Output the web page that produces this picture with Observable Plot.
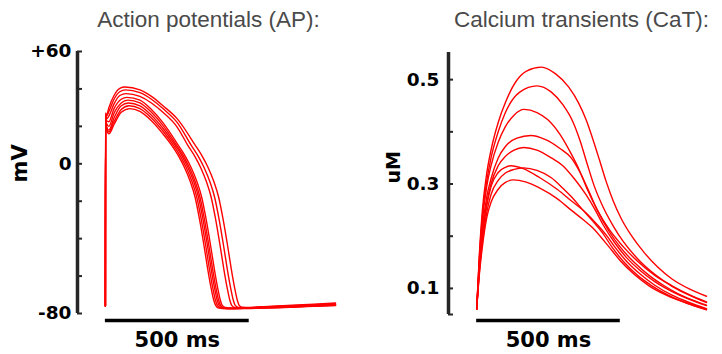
<!DOCTYPE html>
<html>
<head>
<meta charset="utf-8">
<script src="https://cdn.jsdelivr.net/npm/d3@7"></script>
<script src="https://cdn.jsdelivr.net/npm/@observablehq/plot@0.6"></script>
<style>
  body { margin: 0; background: #fff; }
  #wrap { position: relative; width: 722px; height: 354px; overflow: hidden; background: #fff; }
  .title { position: absolute; top: 9px; width: 340px; text-align: center; white-space: nowrap;
           font-family: "Liberation Sans", Arial, sans-serif; font-size: 22.5px; line-height: 22.5px; color: #4a4a4a; }
  .panel { position: absolute; top: 36px; }
</style>
</head>
<body>
<div id="wrap"></div>
<script>
// ---------- Titles & labels ----------
const titles = ["Action potentials (AP):", "Calcium transients (CaT):"];
const yLabels = ["mV", "uM"];

// ---------- Axis ticks ----------
const apTicks = [60, 40, 20, 0, -20, -40, -60, -80];
const apLabeledTicks = [60, 0, -80];
const apTickTexts = ["+60", "0", "-80"];
const caTicks = [0.5, 0.4, 0.3, 0.2, 0.1, 0.05];
const caLabeledTicks = [0.5, 0.3, 0.1];
const caTickTexts = ["0.5", "0.3", "0.1"];

// ---------- Scale bars (ms) ----------
const scaleBar = [{t0: 0, t1: 500, label: "500 ms"}];

// ---------- Action potentials: [time ms, mV] ----------
const ap1 = [[0,-76],[0.5,27],[4,26],[12,30],[30,36.5],[50,40.3],[68,41],[120,39.5],[160,36],[200,31],[250,24],[312,10],[337,4],[357,-2],[377,-9.5],[394,-18],[409,-29.5],[424,-43],[438,-56.5],[449,-66],[458,-72.5],[466,-75.8],[476,-76.6],[502,-76.8],[550,-76.4],[650,-75.6],[800,-74.4]];
const ap2 = [[0,-76],[0.5,27],[4,25.5],[12,28],[30,34.5],[50,38.5],[70,39.5],[120,38],[160,34.5],[200,29.5],[250,22],[298,10],[323,4],[343,-2],[363,-9.5],[380,-18],[395,-29.5],[410,-43],[424,-56.5],[435,-66],[444,-72.5],[452,-75.8],[462,-76.7],[488,-76.9],[550,-76.5],[650,-75.8],[800,-74.8]];
const ap3 = [[0,-76],[0.5,26],[4,24],[12,25.5],[30,32],[50,36.5],[72,37.5],[120,36],[160,32.5],[200,27.5],[250,19.5],[286,10],[311,4],[331,-2],[351,-9.5],[368,-18],[383,-29.5],[398,-43],[412,-56.5],[423,-66],[432,-72.5],[440,-75.8],[450,-76.8],[476,-77],[550,-76.6],[650,-76],[800,-75]];
const ap4 = [[0,-76],[0.5,26],[4,23],[12,22.5],[30,29.5],[55,34.5],[75,35.5],[120,34],[160,29],[200,22],[253,10],[278,4],[298,-2],[318,-9.5],[335,-18],[350,-29.5],[365,-43],[379,-56.5],[390,-66],[399,-72.5],[407,-75.8],[417,-76.8],[443,-77.1],[500,-76.9],[600,-76.5],[700,-75.9],[800,-75.3]];
const ap5 = [[0,-76],[0.5,25],[4,21.5],[12,20],[30,27],[55,32.5],[78,34],[120,32.5],[160,27.5],[200,20.5],[247,10],[272,4],[292,-2],[312,-9.5],[329,-18],[344,-29.5],[359,-43],[373,-56.5],[384,-66],[393,-72.5],[401,-75.8],[411,-76.9],[437,-77.2],[500,-77],[600,-76.6],[700,-76],[800,-75.4]];
const ap6 = [[0,-76],[0.5,24],[4,20],[12,18],[30,24.5],[55,31],[80,32.5],[120,31],[160,26],[200,19],[242,10],[267,4],[287,-2],[307,-9.5],[324,-18],[339,-29.5],[354,-43],[368,-56.5],[379,-66],[388,-72.5],[396,-75.8],[406,-76.9],[432,-77.3],[500,-77.1],[600,-76.7],[700,-76.1],[800,-75.5]];
const ap7 = [[0,-76],[0.5,23],[4,19.5],[12,17],[30,22.5],[55,29],[82,31],[120,29.5],[160,24.5],[200,17.5],[236,10],[261,4],[281,-2],[301,-9.5],[318,-18],[333,-29.5],[348,-43],[362,-56.5],[373,-66],[382,-72.5],[390,-75.8],[400,-77],[426,-77.4],[500,-77.2],[600,-76.8],[700,-76.2],[800,-75.6]];
const ap8 = [[0,-76],[0.5,22],[4,18.5],[12,16],[30,21],[55,27.5],[85,29.5],[120,28],[160,23],[200,16],[230,10],[255,4],[275,-2],[295,-9.5],[312,-18],[327,-29.5],[342,-43],[356,-56.5],[367,-66],[376,-72.5],[384,-75.8],[394,-77.1],[420,-77.5],[500,-77.3],[600,-76.9],[700,-76.3],[800,-75.7]];

// ---------- Calcium transients: [time ms, uM] ----------
const ca1 = [[0,0.06],[10,0.17],[20,0.25],[35,0.32],[50,0.365],[75,0.418],[100,0.456],[135,0.495],[175,0.517],[225,0.524],[275,0.511],[320,0.486],[355,0.455],[381,0.423],[405,0.385],[427,0.347],[450,0.306],[475,0.268],[503,0.234],[540,0.2],[584,0.168],[630,0.141],[680,0.118],[740,0.099],[800,0.085]];
const ca2 = [[0,0.06],[10,0.165],[20,0.24],[35,0.305],[50,0.35],[75,0.4],[100,0.437],[150,0.476],[210,0.488],[260,0.476],[300,0.452],[336,0.418],[360,0.383],[385,0.338],[410,0.295],[440,0.256],[475,0.22],[510,0.19],[560,0.157],[620,0.127],[680,0.104],[740,0.087],[800,0.073]];
const ca3 = [[0,0.06],[10,0.16],[20,0.23],[35,0.295],[50,0.335],[75,0.38],[100,0.41],[130,0.432],[165,0.443],[210,0.437],[248,0.423],[290,0.395],[325,0.362],[357,0.327],[385,0.29],[420,0.25],[460,0.214],[510,0.18],[560,0.152],[620,0.125],[680,0.105],[740,0.088],[800,0.074]];
const ca4 = [[0,0.06],[10,0.15],[20,0.215],[35,0.275],[50,0.31],[75,0.35],[100,0.372],[140,0.388],[189,0.393],[240,0.385],[290,0.368],[329,0.35],[360,0.322],[390,0.287],[420,0.25],[460,0.21],[500,0.179],[550,0.149],[600,0.125],[650,0.106],[700,0.09],[750,0.078],[800,0.068]];
const ca5 = [[0,0.06],[10,0.145],[20,0.205],[35,0.262],[50,0.3],[75,0.335],[100,0.353],[130,0.365],[164,0.37],[210,0.365],[260,0.35],[300,0.335],[340,0.31],[380,0.28],[410,0.253],[440,0.222],[480,0.188],[520,0.16],[570,0.134],[620,0.113],[680,0.094],[740,0.079],[800,0.067]];
const ca6 = [[0,0.06],[10,0.14],[20,0.2],[35,0.258],[50,0.295],[75,0.322],[100,0.332],[119,0.335],[160,0.33],[220,0.312],[280,0.29],[329,0.268],[380,0.245],[420,0.222],[450,0.203],[480,0.18],[520,0.153],[570,0.127],[620,0.106],[680,0.087],[740,0.073],[800,0.061]];
const ca7 = [[0,0.06],[10,0.135],[20,0.19],[35,0.245],[50,0.28],[75,0.307],[100,0.321],[130,0.328],[164,0.331],[210,0.326],[260,0.312],[300,0.292],[329,0.276],[370,0.25],[410,0.225],[440,0.205],[470,0.18],[510,0.152],[560,0.125],[610,0.105],[670,0.086],[730,0.072],[800,0.06]];
const ca8 = [[0,0.06],[10,0.13],[20,0.18],[35,0.235],[50,0.265],[75,0.29],[100,0.303],[129,0.308],[170,0.304],[220,0.292],[280,0.272],[329,0.25],[370,0.232],[402,0.217],[430,0.2],[460,0.18],[500,0.153],[550,0.126],[600,0.105],[660,0.087],[730,0.072],[800,0.059]];

const apTraces = [ap1, ap2, ap3, ap4, ap5, ap6, ap7, ap8];
const caTraces = [ca1, ca2, ca3, ca4, ca5, ca6, ca7, ca8];

// ---------- Drawing ----------
function panel(cfg) {
  const data = cfg.traces.flatMap((tr, i) => tr.map(([t, v]) => ({id: i, t, v})));
  const labelOf = new Map(cfg.labeledTicks.map((d, i) => [d, cfg.tickTexts[i]]));
  const y0 = cfg.yDomain[0];
  return Plot.plot({
    width: 361, height: 318,
    marginLeft: cfg.marginLeft, marginRight: cfg.marginRight,
    marginTop: cfg.marginTop, marginBottom: cfg.marginBottom,
    style: {fontFamily: "DejaVu Sans, sans-serif", fontSize: "18.5px", fontWeight: "bold", color: "#000", background: "#fff", overflow: "visible"},
    x: {domain: cfg.xDomain, axis: null},
    y: {domain: cfg.yDomain},
    marks: [
      Plot.ruleX([cfg.xDomain[0]], {stroke: "#262626", strokeWidth: 3.5}),
      Plot.axisY({ticks: cfg.ticks, tickSize: -5, tickPadding: cfg.tickPadding, stroke: "#262626", strokeWidth: 2,
                  fill: "#000", fontSize: 18.5, fontWeight: "bold", label: null, tickFormat: d => labelOf.get(d) ?? ""}),
      Plot.line(data, {x: "t", y: "v", z: "id", stroke: "#ff0000", strokeWidth: 1.4, curve: "monotone-x"}),
      Plot.ruleY(scaleBar, {x1: "t0", x2: "t1", y: () => y0, dy: cfg.barDy, stroke: "#000", strokeWidth: 3.5}),
      Plot.text(scaleBar, {x: d => (d.t0 + d.t1) / 2, y: () => y0, dy: cfg.barDy + 20, text: "label", fontSize: 21, fontWeight: "bold", fill: "#000"}),
      Plot.text([cfg.yLabel], {frameAnchor: "left", dx: cfg.yLabelDx, rotate: -90, text: d => d, fontSize: cfg.yLabelSize, fontWeight: "bold", fill: "#000"})
    ]
  });
}

const wrap = document.getElementById("wrap");

const left = panel({
  traces: apTraces, xDomain: [-97, 800], yDomain: [-80, 60],
  ticks: apTicks, labeledTicks: apLabeledTicks, tickTexts: apTickTexts,
  marginLeft: 77, marginRight: 26, marginTop: 15, marginBottom: 41,
  tickPadding: 11, barDy: 7, yLabel: yLabels[0], yLabelDx: -57, yLabelSize: 21
});
const right = panel({
  traces: caTraces, xDomain: [-98, 800], yDomain: [0.05, 0.552],
  ticks: caTicks, labeledTicks: caLabeledTicks, tickTexts: caTickTexts,
  marginLeft: 87, marginRight: 16, marginTop: 16, marginBottom: 40,
  tickPadding: 14, barDy: 6, yLabel: yLabels[1], yLabelDx: -55, yLabelSize: 19
});

[left, right].forEach((svg, i) => {
  const p = document.createElement("div");
  p.className = "panel";
  p.style.left = (i * 361) + "px";
  p.appendChild(svg);
  wrap.appendChild(p);
});

const titleCenters = [208.5, 581.5];
titles.forEach((t, i) => {
  const d = document.createElement("div");
  d.className = "title";
  d.textContent = t;
  d.style.left = (titleCenters[i] - 170) + "px";
  wrap.appendChild(d);
});
</script>
</body>
</html>
